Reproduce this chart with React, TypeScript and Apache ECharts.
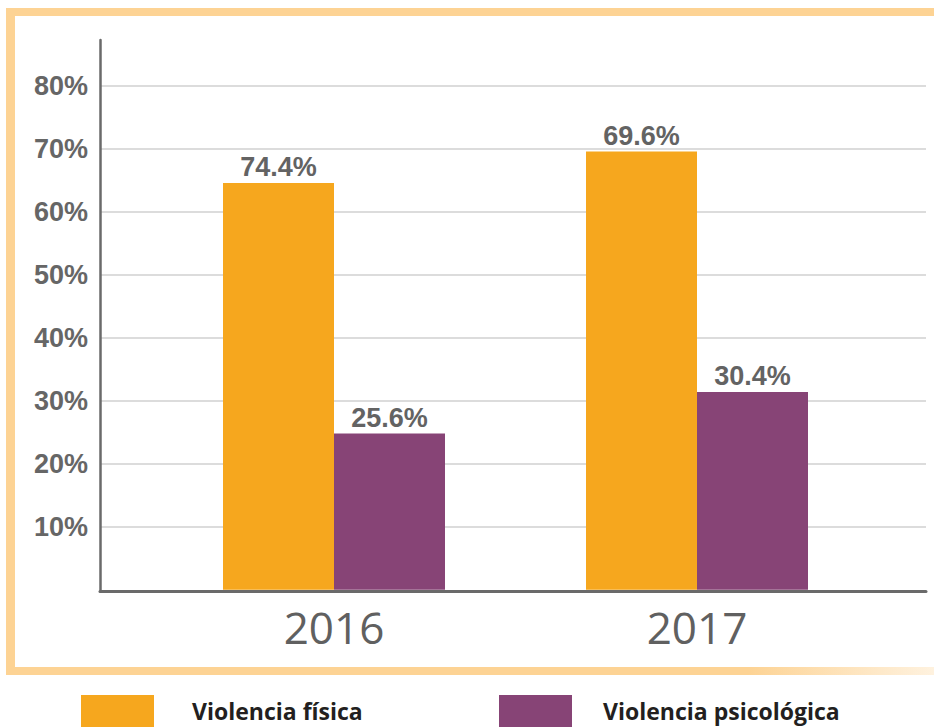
import React, { useEffect, useRef } from "react";
import * as echarts from "echarts";

const years = ["2016", "2017"];
const seriesNames = ["Violencia física", "Violencia psicológica"];
// bar heights as drawn in the picture (percent)
const fisicaBars = [64.6, 69.6];
const psicoBars = [24.8, 31.4];
// value labels printed above the bars
const fisicaLabels = ["74.4%", "69.6%"];
const psicoLabels = ["25.6%", "30.4%"];
const yTicks = [0, 10, 20, 30, 40, 50, 60, 70, 80];

const ORANGE = "#F6A71E";
const PURPLE = "#874476";
const FRAME = "#FDD394";
const BOLD_FONT = "'Liberation Sans', Arial, sans-serif";
const TEXT_FONT = "'Open Sans', 'Noto Sans', sans-serif";

export default function App() {
  const ref = useRef<HTMLDivElement>(null);
  useEffect(() => {
    if (!ref.current) return;
    const chart = echarts.init(ref.current, null, { renderer: "svg" });
    const yMax = yTicks[yTicks.length - 1];
    const legendText = {
      fontSize: 23, fontWeight: "bold", color: "#231f20", fontFamily: TEXT_FONT,
    };
    chart.setOption({
      animation: false,
      backgroundColor: "#ffffff",
      graphic: [
        { type: "rect", shape: { x: 6, y: 8, width: 928, height: 8 }, style: { fill: FRAME } },
        { type: "rect", shape: { x: 6, y: 8, width: 9, height: 667 }, style: { fill: FRAME } },
        {
          type: "rect",
          shape: { x: 6, y: 667, width: 928, height: 8 },
          style: {
            fill: new echarts.graphic.LinearGradient(0, 0, 1, 0, [
              { offset: 0, color: FRAME },
              { offset: 0.8, color: FRAME },
              { offset: 1, color: "rgba(253,211,148,0.3)" },
            ]),
          },
        },
      ],
      grid: [
        { left: 100, right: 8, top: 40, bottom: 135.5 },
        { left: 100, right: 8, top: 86, bottom: 137.3 },
        { left: 152.5, right: 55.5, top: 86, bottom: 137.3 },
      ],
      xAxis: [
        {
          gridIndex: 0, type: "value", min: 0, max: 1,
          axisLine: { show: true, onZero: false, lineStyle: { color: "#6a6a6a", width: 3 } },
          axisTick: { show: false }, axisLabel: { show: false }, splitLine: { show: false },
        },
        {
          gridIndex: 1, type: "category", data: years,
          axisLine: { show: false }, axisTick: { show: false }, axisLabel: { show: false },
        },
        {
          gridIndex: 2, type: "category", data: years,
          axisLine: { show: false }, axisTick: { show: false },
          axisLabel: { fontSize: 44, color: "#606060", fontFamily: TEXT_FONT, margin: 15 },
        },
      ],
      yAxis: [
        {
          gridIndex: 0, type: "value", min: 0, max: 1,
          axisLine: { show: true, onZero: false, lineStyle: { color: "#6a6a6a", width: 2.5 } },
          axisTick: { show: false }, axisLabel: { show: false }, splitLine: { show: false },
        },
        {
          gridIndex: 1, type: "value", min: 0, max: yMax, interval: 10,
          axisLine: { show: false }, axisTick: { show: false },
          splitLine: { show: true, showMinLine: false, lineStyle: { color: "#dcdcdc", width: 2 } },
          axisLabel: {
            margin: 12, fontSize: 27, fontWeight: "bold", color: "#666666", fontFamily: BOLD_FONT,
            formatter: (v: number) => (v === 0 ? "" : v + "%"),
          },
        },
        {
          gridIndex: 2, type: "value", min: 0, max: yMax, show: false,
        },
      ],
      legend: [
        {
          data: [seriesNames[0]], left: 81, top: 695, padding: 0, itemWidth: 73, itemHeight: 32, icon: "rect",
          textStyle: { ...legendText, padding: [0, 0, 0, 33] },
          selectedMode: false,
        },
        {
          data: [seriesNames[1]], left: 499, top: 695, padding: 0, itemWidth: 73, itemHeight: 32, icon: "rect",
          textStyle: { ...legendText, padding: [0, 0, 0, 26] },
          selectedMode: false,
        },
      ],
      series: [
        {
          name: seriesNames[0], type: "bar", xAxisIndex: 2, yAxisIndex: 2,
          data: fisicaBars, barWidth: 111, barGap: "0%", itemStyle: { color: ORANGE },
          label: {
            show: true, position: "top", distance: 2, fontSize: 27, fontWeight: "bold",
            color: "#636363", fontFamily: BOLD_FONT,
            formatter: (p: any) => fisicaLabels[p.dataIndex],
          },
        },
        {
          name: seriesNames[1], type: "bar", xAxisIndex: 2, yAxisIndex: 2,
          data: psicoBars, barWidth: 111, barGap: "0%", itemStyle: { color: PURPLE },
          label: {
            show: true, position: "top", distance: 2, fontSize: 27, fontWeight: "bold",
            color: "#636363", fontFamily: BOLD_FONT,
            formatter: (p: any) => psicoLabels[p.dataIndex],
          },
        },
      ],
    });
    return () => chart.dispose();
  }, []);
  return (
    <div
      ref={ref}
      style={{ position: "fixed", left: 0, top: 0, width: 934, height: 727, background: "#fff" }}
    />
  );
}
